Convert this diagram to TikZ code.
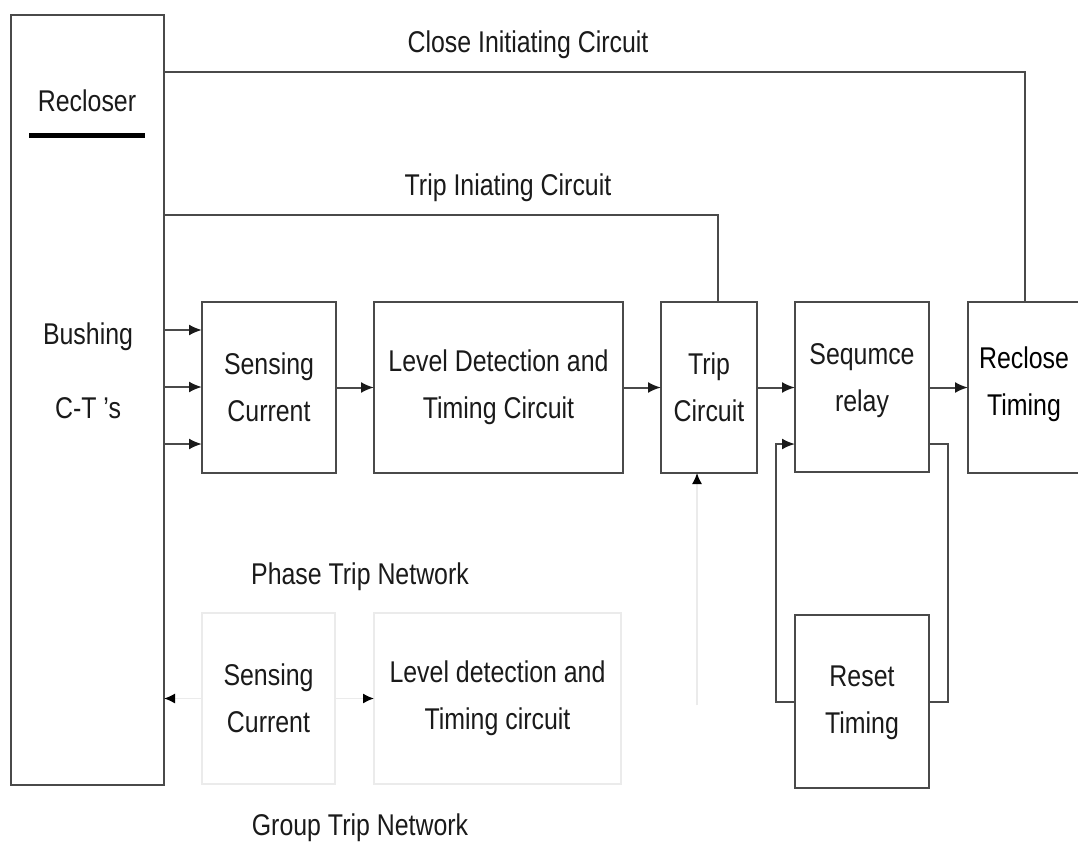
\documentclass[tikz,border=0pt]{standalone}
\usepackage{fontspec}
\setmainfont[FakeStretch=0.83]{Liberation Sans}
\usetikzlibrary{arrows.meta,calc}
\definecolor{ink}{HTML}{1A1A1A}
\definecolor{wire}{HTML}{4A4A4A}
\definecolor{faint}{HTML}{EBEBEB}
\begin{document}
\begin{tikzpicture}[x=1pt,y=-1pt,
  every node/.style={font=\fontsize{30}{47}\selectfont, text=ink},
  block/.style={draw=wire, line width=2pt, inner sep=0pt, outer sep=0pt, align=center},
  ghost/.style={draw=faint, line width=1.5pt, inner sep=0pt, outer sep=0pt, align=center},
  wireline/.style={draw=wire, line width=2pt},
  flow/.style={wireline, -{Latex[length=13pt,width=11pt,color=ink]}},
  faintflow/.style={draw=faint, line width=1.5pt, -{Latex[length=11pt,width=10pt,color=black]}},
  lbl/.style={inner sep=0pt, align=center}]
\useasboundingbox (0,0) rectangle (1078,861);
\clip (0,0) rectangle (1078,861);
\fill[white] (0,0) rectangle (1078,861);

% recloser enclosure
\node[block, minimum width=153pt, minimum height=770pt] (rec) at (87.5,400) {};
\node[lbl] (recl) at (87,101) {Recloser};
\draw[line width=5pt, black] (29,136) -- (145,136);
\node[lbl] (bush) at (88,337) {Bushing};
\node[lbl] (ct) at (88,408) {C-T ’s};

% phase trip chain
\node[block, minimum width=134pt, minimum height=171pt] (sc) at (269,387.5) {Sensing\\Current};
\node[block, minimum width=249pt, minimum height=171pt] (ld) at (498.5,387.5) {Level Detection and\\Timing Circuit};
\node[block, minimum width=96pt, minimum height=171pt] (tc) at (709,387.5) {Trip\\Circuit};
\node[block, minimum width=134pt, minimum height=170pt] (sr) at (862,387) {};
\node[lbl] (srt) at (862,381) {Sequmce\\relay};
\node[block, minimum width=114pt, minimum height=171pt] (rt) at (1025,387.5) {};
\node[lbl, text=black] (rtt) at (1024,384) {Reclose\\Timing};
\node[block, minimum width=134pt, minimum height=173pt] (rs) at (862,701.5) {};
\node[lbl] (rst) at (862,703) {Reset\\Timing};

% group trip chain (faint)
\node[ghost, minimum width=133pt, minimum height=171pt] (gsc) at (268.5,698.5) {Sensing\\Current};
\node[ghost, minimum width=247pt, minimum height=171pt] (gld) at (497.5,698.5) {Level detection and\\Timing circuit};
\coordinate (gtap) at (697,705);

% captions
\node[lbl] (cic) at (528,45) {Close Initiating Circuit};
\node[lbl] (tic) at (508,188) {Trip Iniating Circuit};
\node[lbl] (ptn) at (360,577) {Phase Trip Network};
\node[lbl] (gtn) at (360,828) {Group Trip Network};

% initiating circuits
\draw[wireline] ($(rec.north east)+(0,57)$) -| (rt.north);
\draw[wireline] ($(rec.north east)+(0,200)$) -| ($(tc.north)+(9,0)$);

% current transformer inputs
\draw[flow] ($(rec.east)+(0,-70)$) -- ($(sc.west)+(0,-57.5)$);
\draw[flow] ($(rec.east)+(0,-13)$) -- ($(sc.west)+(0,-0.5)$);
\draw[flow] ($(rec.east)+(0,44)$) -- ($(sc.west)+(0,56.5)$);

% main signal path
\draw[flow] (sc) -- (ld);
\draw[flow] (ld) -- (tc);
\draw[flow] (tc) -- (sr.west |- tc.east);
\draw[flow] (sr.east |- tc.east) -- (rt.west |- tc.east);

% reset loop
\draw[flow] (rs.west) -- ++(-19,0) |- ($(sr.west)+(0,57)$);
\draw[wireline] ($(sr.east)+(0,57)$) -- ++(19,0) |- (rs.east);

% group trip connections
\draw[faintflow] (gsc.west) -- (rec.east |- gsc.west);
\draw[faintflow] (gsc.east) -- (gld.west);
\draw[faintflow] (gtap) -- (gtap |- tc.south);
\end{tikzpicture}
\end{document}
